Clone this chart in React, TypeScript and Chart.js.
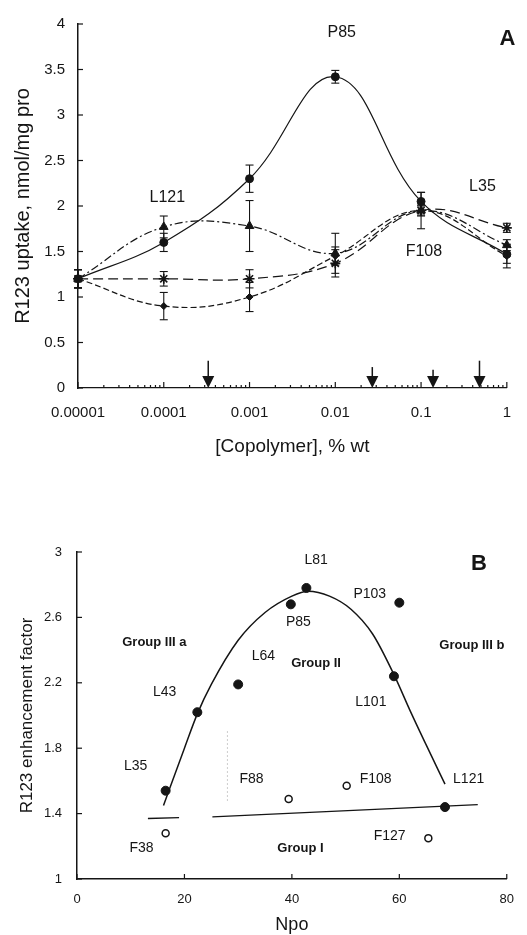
import React, { useEffect, useRef } from "react";
import { Chart, registerables } from "chart.js";
Chart.register(...registerables);

const FONT = "'Liberation Sans', Arial, Helvetica, sans-serif";
const INK = "#151515";

// ---------- Panel A data ----------
const concA = [0.00001, 0.0001, 0.001, 0.01, 0.1, 1];
const xTickLabelsA = ["0.00001", "0.0001", "0.001", "0.01", "0.1", "1"];
const yTicksA = [0, 0.5, 1, 1.5, 2, 2.5, 3, 3.5, 4];
const yTickLabelsA = ["0", "0.5", "1", "1.5", "2", "2.5", "3", "3.5", "4"];

const p85Uptake = [1.2, 1.6, 2.3, 3.42, 2.05, 1.47];
const p85Err = [0.1, 0.1, 0.15, 0.07, 0.1, 0.1];
const l121Uptake = [1.2, 1.77, 1.78, 1.48, 1.95, 1.57];
const l121Err = [0.1, 0.12, 0.28, 0.22, 0.06, 0.06];
const l35Uptake = [1.2, 1.2, 1.2, 1.37, 1.95, 1.76];
const l35Err = [0.1, 0.08, 0.1, 0.15, 0.05, 0.05];
const f108Uptake = [1.2, 0.9, 1.0, 1.45, 1.95, 1.45];
const f108Err = [0.1, 0.15, 0.16, 0.1, 0.2, 0.13];

const cmcArrowConc = [0.00033, 0.027, 0.138, 0.48];
const cmcArrowTop = [0.3, 0.23, 0.2, 0.3];

const labelsA = [
  { text: "P85", x: 0.0119, y: 3.91 },
  { text: "L121", x: 0.00011, y: 2.09 },
  { text: "L35", x: 0.52, y: 2.21 },
  { text: "F108", x: 0.108, y: 1.5 },
];
const panelA = { text: "A", x: 1.02, y: 3.84 };

// ---------- Panel B data ----------
const npoTicks = [0, 20, 40, 60, 80];
const factorTicks = [1, 1.4, 1.8, 2.2, 2.6, 3];
const factorTickLabels = ["1", "1.4", "1.8", "2.2", "2.6", "3"];

const filledNames = ["L35", "L43", "L64", "P85", "L81", "L101", "P103", "L121"];
const filledNpo = [16.5, 22.4, 30, 39.8, 42.7, 59, 60, 68.5];
const filledFactor = [1.54, 2.02, 2.19, 2.68, 2.78, 2.24, 2.69, 1.44];

const openNames = ["F38", "F88", "F108", "F127"];
const openNpo = [16.5, 39.4, 50.2, 65.4];
const openFactor = [1.28, 1.49, 1.57, 1.25];

const curveNpo = [16.1, 20, 22.4, 25, 30, 35, 40, 43, 47, 51, 55, 59, 62, 65, 68.5];
const curveFactor = [1.45, 1.8, 2.01, 2.19, 2.46, 2.63, 2.73, 2.76, 2.73, 2.65, 2.5, 2.25, 2.03, 1.82, 1.58];

const groupINpo = [13.2, 19, 22, 25.2, 74.6];
const groupIFactor = [1.37, 1.375, null, 1.38, 1.455];

const dropNpo = [28, 28];
const dropFactor = [1.48, 1.92];

const labelsB = [
  { text: "L81", x: 44.5, y: 2.95 },
  { text: "P103", x: 54.5, y: 2.74 },
  { text: "P85", x: 41.2, y: 2.57 },
  { text: "L64", x: 34.7, y: 2.36 },
  { text: "L43", x: 16.3, y: 2.14 },
  { text: "L101", x: 54.7, y: 2.08 },
  { text: "L35", x: 10.9, y: 1.69 },
  { text: "F88", x: 32.5, y: 1.61 },
  { text: "F108", x: 55.6, y: 1.61 },
  { text: "L121", x: 72.9, y: 1.61 },
  { text: "F38", x: 12.0, y: 1.19 },
  { text: "F127", x: 58.2, y: 1.26 },
];
const groupLabelsB = [
  { text: "Group III a", x: 14.4, y: 2.45 },
  { text: "Group III b", x: 73.5, y: 2.43 },
  { text: "Group II", x: 44.5, y: 2.32 },
  { text: "Group I", x: 41.6, y: 1.19 },
];
const panelB = { text: "B", x: 74.8, y: 2.93 };

// ---------- helpers ----------
function line(ctx: CanvasRenderingContext2D, x1: number, y1: number, x2: number, y2: number) {
  ctx.beginPath();
  ctx.moveTo(x1, y1);
  ctx.lineTo(x2, y2);
  ctx.stroke();
}

function drawText(ctx: CanvasRenderingContext2D, text: string, x: number, y: number, font: string) {
  ctx.font = font;
  ctx.fillStyle = INK;
  ctx.textAlign = "center";
  ctx.textBaseline = "middle";
  ctx.fillText(text, x, y);
}

const seriesA = [
  { name: "P85", values: p85Uptake, err: p85Err, style: "circle", radius: 4, dash: [] as number[] },
  { name: "L121", values: l121Uptake, err: l121Err, style: "triangle", radius: 5, dash: [8, 3, 2, 3] },
  { name: "L35", values: l35Uptake, err: l35Err, style: "star", radius: 5, dash: [10, 5] },
  { name: "F108", values: f108Uptake, err: f108Err, style: "rectRot", radius: 3.5, dash: [6, 3] },
];

const decorA = {
  id: "decorA",
  afterDatasetsDraw(chart: any) {
    const { ctx, chartArea: ca, scales } = chart;
    const x = scales.x;
    const y = scales.y;
    ctx.save();
    ctx.strokeStyle = INK;
    ctx.fillStyle = INK;
    ctx.lineWidth = 1.1;
    ctx.setLineDash([]);
    // error bars
    seriesA.forEach((s) => {
      s.values.forEach((v, i) => {
        const px = x.getPixelForValue(concA[i]);
        const t = y.getPixelForValue(v + s.err[i]);
        const b = y.getPixelForValue(v - s.err[i]);
        line(ctx, px, t, px, b);
        line(ctx, px - 4, t, px + 4, t);
        line(ctx, px - 4, b, px + 4, b);
      });
    });
    // inward y ticks
    ctx.lineWidth = 1.2;
    yTicksA.forEach((v) => {
      const py = y.getPixelForValue(v);
      line(ctx, ca.left, py, ca.left + 5, py);
    });
    // inward x ticks (log, with minor)
    concA.forEach((d, i) => {
      const px = x.getPixelForValue(d);
      line(ctx, px, ca.bottom, px, ca.bottom - 6);
      if (i < concA.length - 1) {
        for (let k = 2; k <= 9; k++) {
          const mx = x.getPixelForValue(d * k);
          line(ctx, mx, ca.bottom, mx, ca.bottom - 3);
        }
      }
    });
    // CMC arrows
    cmcArrowConc.forEach((c, i) => {
      const px = x.getPixelForValue(c);
      const top = y.getPixelForValue(cmcArrowTop[i]);
      const base = y.getPixelForValue(0);
      ctx.lineWidth = 1.5;
      line(ctx, px, top, px, base - 10);
      ctx.beginPath();
      ctx.moveTo(px - 6, base - 12);
      ctx.lineTo(px + 6, base - 12);
      ctx.lineTo(px, base);
      ctx.closePath();
      ctx.fill();
    });
    // labels
    labelsA.forEach((l) => {
      drawText(ctx, l.text, x.getPixelForValue(l.x), y.getPixelForValue(l.y), `16px ${FONT}`);
    });
    drawText(ctx, panelA.text, x.getPixelForValue(panelA.x), y.getPixelForValue(panelA.y), `bold 22px ${FONT}`);
    ctx.restore();
  },
};

const decorB = {
  id: "decorB",
  afterDatasetsDraw(chart: any) {
    const { ctx, chartArea: ca, scales } = chart;
    const x = scales.x;
    const y = scales.y;
    ctx.save();
    ctx.strokeStyle = INK;
    ctx.lineWidth = 1.2;
    factorTicks.forEach((v) => {
      const py = y.getPixelForValue(v);
      line(ctx, ca.left, py, ca.left + 5, py);
    });
    npoTicks.forEach((v) => {
      const px = x.getPixelForValue(v);
      line(ctx, px, ca.bottom, px, ca.bottom - 5);
    });
    labelsB.forEach((l) => {
      drawText(ctx, l.text, x.getPixelForValue(l.x), y.getPixelForValue(l.y), `14px ${FONT}`);
    });
    groupLabelsB.forEach((l) => {
      drawText(ctx, l.text, x.getPixelForValue(l.x), y.getPixelForValue(l.y), `bold 13px ${FONT}`);
    });
    drawText(ctx, panelB.text, x.getPixelForValue(panelB.x), y.getPixelForValue(panelB.y), `bold 22px ${FONT}`);
    ctx.restore();
  },
};

function configA(): any {
  return {
    type: "line",
    data: {
      labels: concA,
      datasets: seriesA.map((s) => ({
        label: s.name,
        data: concA.map((c, i) => ({ x: c, y: s.values[i] })),
        borderColor: INK,
        backgroundColor: INK,
        borderWidth: 1.2,
        borderDash: s.dash,
        pointStyle: s.style,
        pointRadius: s.radius,
        pointBorderWidth: s.style === "star" ? 1.6 : 1,
        pointBackgroundColor: INK,
        pointBorderColor: INK,
        tension: 0.4,
        clip: false,
      })),
    },
    options: {
      responsive: false,
      animation: false,
      devicePixelRatio: 1,
      layout: { padding: { top: 24, right: 10, left: 0, bottom: 0 } },
      plugins: { legend: { display: false }, tooltip: { enabled: false } },
      scales: {
        x: {
          type: "logarithmic",
          min: 0.00001,
          max: 1,
          afterBuildTicks: (s: any) => {
            s.ticks = concA.map((v) => ({ value: v }));
          },
          afterFit: (s: any) => {
            s.height = 82;
          },
          grid: { display: false, drawTicks: false },
          border: { display: true, color: INK, width: 1.3 },
          ticks: {
            autoSkip: false,
            maxRotation: 0,
            padding: 16,
            color: INK,
            font: { family: FONT, size: 15 },
            callback: (_v: any, i: number) => xTickLabelsA[i],
          },
          title: {
            display: true,
            text: "[Copolymer], % wt",
            color: INK,
            font: { family: FONT, size: 19 },
            padding: { top: 0, bottom: 12 },
          },
        },
        y: {
          type: "linear",
          min: 0,
          max: 4,
          afterBuildTicks: (s: any) => {
            s.ticks = yTicksA.map((v) => ({ value: v }));
          },
          afterFit: (s: any) => {
            s.width = 78;
          },
          grid: { display: false, drawTicks: false },
          border: { display: true, color: INK, width: 1.5 },
          ticks: {
            padding: 13,
            color: INK,
            font: { family: FONT, size: 15 },
            callback: (_v: any, i: number) => yTickLabelsA[i],
          },
          title: {
            display: true,
            text: "R123 uptake, nmol/mg pro",
            color: INK,
            font: { family: FONT, size: 20 },
            padding: { top: 11, bottom: 0 },
          },
        },
      },
    },
    plugins: [decorA],
  };
}

function configB(): any {
  return {
    type: "scatter",
    data: {
      datasets: [
        {
          label: "curve",
          type: "line",
          data: curveNpo.map((v, i) => ({ x: v, y: curveFactor[i] })),
          borderColor: INK,
          borderWidth: 1.5,
          pointRadius: 0,
          cubicInterpolationMode: "monotone",
          fill: false,
        },
        {
          label: "Group I",
          type: "line",
          data: groupINpo.map((v, i) => ({ x: v, y: groupIFactor[i] })),
          borderColor: INK,
          borderWidth: 1.3,
          pointRadius: 0,
          spanGaps: false,
          fill: false,
        },
        {
          label: "F88 drop",
          type: "line",
          data: dropNpo.map((v, i) => ({ x: v, y: dropFactor[i] })),
          borderColor: "#9a9a9a",
          borderWidth: 1,
          borderDash: [1, 3],
          pointRadius: 0,
          fill: false,
        },
        {
          label: "filled",
          data: filledNpo.map((v, i) => ({ x: v, y: filledFactor[i], name: filledNames[i] })),
          pointStyle: "circle",
          pointRadius: 4.5,
          pointBackgroundColor: INK,
          pointBorderColor: INK,
          clip: false,
        },
        {
          label: "open",
          data: openNpo.map((v, i) => ({ x: v, y: openFactor[i], name: openNames[i] })),
          pointStyle: "circle",
          pointRadius: 3.5,
          pointBackgroundColor: "#ffffff",
          pointBorderColor: INK,
          pointBorderWidth: 1.5,
          clip: false,
        },
      ],
    },
    options: {
      responsive: false,
      animation: false,
      devicePixelRatio: 1,
      layout: { padding: { top: 82, right: 17, left: 0, bottom: 0 } },
      plugins: { legend: { display: false }, tooltip: { enabled: false } },
      scales: {
        x: {
          type: "linear",
          min: 0,
          max: 80,
          afterBuildTicks: (s: any) => {
            s.ticks = npoTicks.map((v) => ({ value: v }));
          },
          afterFit: (s: any) => {
            s.height = 56;
          },
          grid: { display: false, drawTicks: false },
          border: { display: true, color: INK, width: 1.5 },
          ticks: {
            padding: 13,
            color: INK,
            maxRotation: 0,
            font: { family: FONT, size: 13 },
            callback: (v: any) => String(v),
          },
          title: {
            display: true,
            text: "Npo",
            color: INK,
            font: { family: FONT, size: 18, lineHeight: 1 },
            padding: { top: 0, bottom: 1 },
          },
        },
        y: {
          type: "linear",
          min: 1,
          max: 3,
          afterBuildTicks: (s: any) => {
            s.ticks = factorTicks.map((v) => ({ value: v }));
          },
          afterFit: (s: any) => {
            s.width = 77;
          },
          grid: { display: false, drawTicks: false },
          border: { display: true, color: INK, width: 1.5 },
          ticks: {
            padding: 15,
            color: INK,
            font: { family: FONT, size: 13 },
            callback: (_v: any, i: number) => factorTickLabels[i],
          },
          title: {
            display: true,
            text: "R123 enhancement factor",
            color: INK,
            font: { family: FONT, size: 17 },
            padding: { top: 17, bottom: 0 },
          },
        },
      },
    },
    plugins: [decorB],
  };
}

export default function App() {
  const refA = useRef<HTMLCanvasElement>(null);
  const refB = useRef<HTMLCanvasElement>(null);
  useEffect(() => {
    const a = new Chart(refA.current as HTMLCanvasElement, configA());
    const b = new Chart(refB.current as HTMLCanvasElement, configB());
    return () => {
      a.destroy();
      b.destroy();
    };
  }, []);
  return (
    <div style={{ position: "absolute", left: 0, top: 0, width: 527, height: 935, background: "#ffffff" }}>
      <canvas
        ref={refA}
        width={527}
        height={470}
        style={{ position: "absolute", left: 0, top: 0, width: 527, height: 470, display: "block" }}
      />
      <canvas
        ref={refB}
        width={527}
        height={465}
        style={{ position: "absolute", left: 0, top: 470, width: 527, height: 465, display: "block" }}
      />
    </div>
  );
}
